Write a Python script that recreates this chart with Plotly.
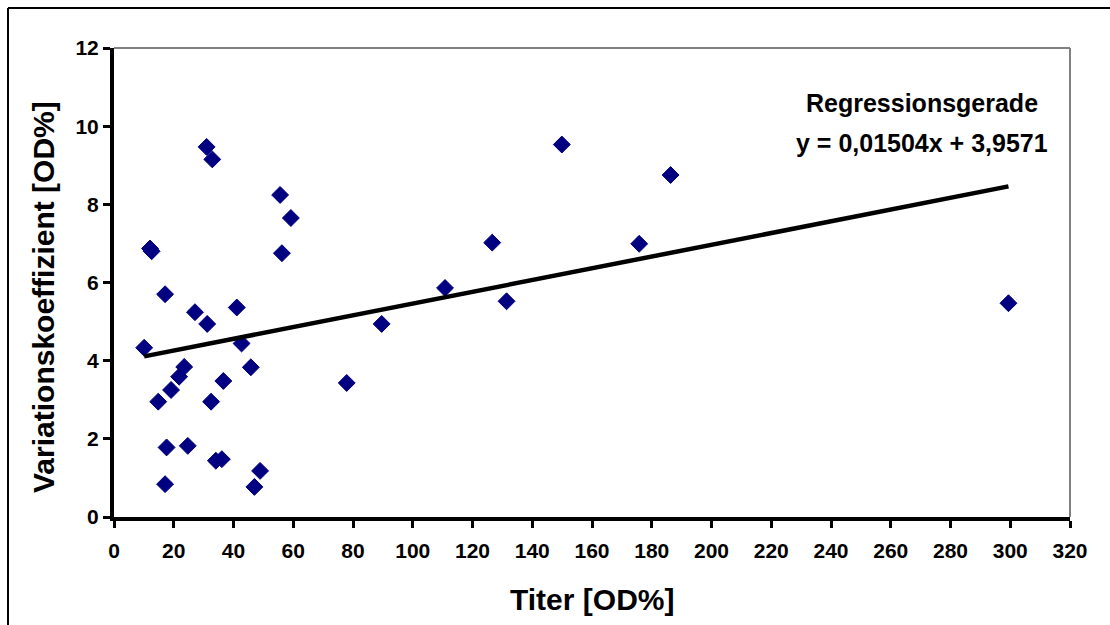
import plotly.graph_objects as go

titer = [10.1, 12.05, 12.6, 17.1, 27.1, 31.0, 32.9, 41.1, 55.6, 59.2, 56.2, 31.2,
         42.7, 89.6, 23.5, 21.8, 19.1, 14.8, 36.6, 32.5, 45.8, 77.9, 17.6, 24.7,
         34.1, 36.1, 48.9, 17.1, 47.0,
         149.9, 186.3, 126.6, 175.8, 110.8, 131.4, 299.4]
vk = [4.33, 6.87, 6.80, 5.70, 5.24, 9.47, 9.15, 5.36, 8.24, 7.65, 6.75, 4.94,
      4.44, 4.94, 3.84, 3.59, 3.25, 2.95, 3.48, 2.95, 3.83, 3.43, 1.78, 1.82,
      1.44, 1.48, 1.18, 0.84, 0.77,
      9.53, 8.75, 7.02, 6.99, 5.86, 5.52, 5.47]
slope = 0.01504
intercept = 3.9571
x_ticks = list(range(0, 321, 20))
y_ticks = list(range(0, 13, 2))

W, H = 1110, 625
L, R, T, B = 114, 40, 48, 108
pw, ph = W - L - R, H - T - B

def px(x):
    return (x - L) / pw

def py(y):
    return (H - B - y) / ph

FONT = "Liberation Sans, Arial, sans-serif"
TICKFONT = dict(family="Liberation Sans", size=21, color="black", weight="bold")

fig = go.Figure()
fig.add_trace(go.Scatter(
    x=titer, y=vk, mode="markers",
    marker=dict(symbol="diamond", size=13, color="#000080",
                line=dict(color="#000080", width=1)),
    showlegend=False, cliponaxis=False))
xl = [min(titer), max(titer)]
fig.add_trace(go.Scatter(
    x=xl, y=[slope * v + intercept for v in xl], mode="lines",
    line=dict(color="black", width=4.5), showlegend=False))

axis_common = dict(showgrid=False, zeroline=False, showline=True, linecolor="black",
                   linewidth=4, ticks="outside", ticklen=7, tickwidth=3, tickcolor="black")
fig.update_xaxes(range=[0, 320], tickvals=x_ticks, ticklabelstandoff=5, tickangle=0,
                 tickfont=TICKFONT, **axis_common)
fig.update_yaxes(range=[0, 12], tickvals=y_ticks, tickfont=TICKFONT, **axis_common)

fig.update_layout(
    width=W, height=H, margin=dict(l=L, r=R, t=T, b=B),
    paper_bgcolor="white", plot_bgcolor="white",
    font=dict(family=FONT, color="black"),
    shapes=[
        dict(type="line", xref="paper", yref="paper", x0=0, x1=1, y0=1, y1=1,
             line=dict(color="#808080", width=2), layer="below"),
        dict(type="line", xref="paper", yref="paper", x0=1, x1=1, y0=0, y1=1,
             line=dict(color="#808080", width=2), layer="below"),
        dict(type="line", xref="paper", yref="paper", x0=px(8), x1=px(1130), y0=py(8), y1=py(8),
             line=dict(color="black", width=2)),
        dict(type="line", xref="paper", yref="paper", x0=px(8), x1=px(8), y0=py(8), y1=py(640),
             line=dict(color="black", width=2)),
    ],
    annotations=[
        dict(text="Regressionsgerade", x=270.5, y=10.59, xref="x", yref="y", showarrow=False,
             xanchor="center", yanchor="middle",
             font=dict(family=FONT, size=25, color="black", weight="bold")),
        dict(text="y = 0,01504x + 3,9571", x=270.5, y=9.57, xref="x", yref="y", showarrow=False,
             xanchor="center", yanchor="middle",
             font=dict(family=FONT, size=25, color="black", weight="bold")),
        dict(text="Titer [OD%]", x=px(592), y=py(599), xref="paper", yref="paper", showarrow=False,
             xanchor="center", yanchor="middle",
             font=dict(family=FONT, size=30, color="black", weight="bold")),
        dict(text="Variationskoeffizient [OD%]", x=px(43), y=py(297), xref="paper", yref="paper",
             showarrow=False, textangle=-90, xanchor="center", yanchor="middle",
             font=dict(family=FONT, size=30, color="black", weight="bold")),
    ],
)

fig.write_html("out.html")
